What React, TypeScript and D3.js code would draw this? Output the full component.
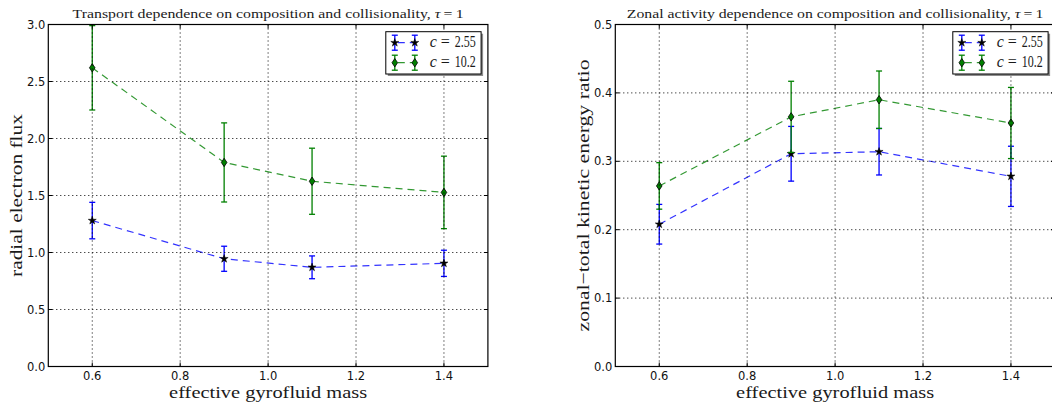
import * as d3 from "d3";

// effective gyrofluid mass (x)
const mass = [0.6, 0.9, 1.1, 1.4];

// radial electron flux
const fluxLowC = [1.28, 0.945, 0.87, 0.905];
const fluxLowCErr = [0.16, 0.11, 0.1, 0.115];
const fluxHighC = [2.62, 1.79, 1.625, 1.527];
const fluxHighCErr = [0.37, 0.347, 0.29, 0.318];

// zonal-total kinetic energy ratio
const zonalLowC = [0.208, 0.311, 0.314, 0.278];
const zonalLowCErr = [0.029, 0.04, 0.034, 0.044];
const zonalHighC = [0.264, 0.365, 0.39, 0.356];
const zonalHighCErr = [0.034, 0.052, 0.042, 0.052];

const massTicks = [0.6, 0.8, 1.0, 1.2, 1.4];
const fluxTicks = [0, 0.5, 1.0, 1.5, 2.0, 2.5, 3.0];
const zonalTicks = [0, 0.1, 0.2, 0.3, 0.4, 0.5];

const seriesLabels = ["2.55", "10.2"];
const seriesColors = ["#0000ff", "#008000"];

const W = 1052;
const H = 405;
const TOP = 24.5;
const BOTTOM = 366.5;
const PW = 439.6;

const serif = "'Liberation Serif', 'DejaVu Serif', serif";
const sans = "'DejaVu Sans', sans-serif";

const starPath = d3.symbol(d3.symbolStar, 20)() as string;
const diamondPath = "M0,-4.2L2.8,0L0,4.2L-2.8,0Z";

function Marker({ kind, cx, cy }: { kind: number; cx: number; cy: number }) {
  if (kind === 0)
    return <path d={starPath} transform={`translate(${cx},${cy})`} fill="#000" stroke="#000" strokeWidth={0.5} />;
  return <path d={diamondPath} transform={`translate(${cx},${cy})`} fill="#008000" stroke="#000" strokeWidth={0.8} />;
}

function ErrBar({ cx, y0, y1, color }: { cx: number; y0: number; y1: number; color: string }) {
  return (
    <g stroke={color} strokeWidth={1.3}>
      <line x1={cx} x2={cx} y1={y0} y2={y1} />
      <line x1={cx - 3} x2={cx + 3} y1={y0} y2={y0} />
      <line x1={cx - 3} x2={cx + 3} y1={y1} y2={y1} />
    </g>
  );
}

type Series = { vals: number[]; errs: number[] };

function Panel(props: {
  left: number;
  title: string;
  titleLen: number;
  ylabel: string;
  ylabelLen: number;
  ylabelX: number;
  yDomain: [number, number];
  yTicks: number[];
  series: Series[];
}) {
  const { left, title, titleLen, ylabel, ylabelLen, ylabelX, yDomain, yTicks, series } = props;
  const x = d3.scaleLinear().domain([0.5, 1.5]).range([left, left + PW]);
  const y = d3.scaleLinear().domain(yDomain).range([BOTTOM, TOP]);
  const fmt = d3.format(".1f");
  const line = d3
    .line<number>()
    .x((_, i) => x(mass[i]))
    .y((d) => y(d));
  const x0 = x(0.5);
  const x1 = x(1.5);
  const cx = (x0 + x1) / 2;
  const cy = (TOP + BOTTOM) / 2;

  const lgX = x1 - 6.8 - 95.3;
  const lgY = 31.7;

  return (
    <g>
      {/* data */}
      {series.map((s, k) => (
        <g key={k}>
          <path d={line(s.vals) as string} fill="none" stroke={seriesColors[k]} strokeWidth={1.2} strokeDasharray="7,5" opacity={0.8} />
          {s.vals.map((v, i) => (
            <ErrBar key={i} cx={x(mass[i])} y0={y(v + s.errs[i])} y1={y(v - s.errs[i])} color={seriesColors[k]} />
          ))}
          {s.vals.map((v, i) => (
            <Marker key={i} kind={k} cx={x(mass[i])} cy={y(v)} />
          ))}
        </g>
      ))}

      {/* grid on top of data */}
      <g stroke="#000" strokeWidth={1} strokeDasharray="1,3">
        {massTicks.map((t) => (
          <line key={t} x1={x(t)} x2={x(t)} y1={TOP} y2={BOTTOM} />
        ))}
        {yTicks.map((t) => (
          <line key={t} x1={x0} x2={x1} y1={y(t)} y2={y(t)} />
        ))}
      </g>

      {/* ticks, inward on all sides */}
      <g stroke="#000" strokeWidth={1}>
        {massTicks.map((t) => (
          <g key={t}>
            <line x1={x(t)} x2={x(t)} y1={BOTTOM} y2={BOTTOM - 4} />
            <line x1={x(t)} x2={x(t)} y1={TOP} y2={TOP + 4} />
          </g>
        ))}
        {yTicks.map((t) => (
          <g key={t}>
            <line x1={x0} x2={x0 + 4} y1={y(t)} y2={y(t)} />
            <line x1={x1} x2={x1 - 4} y1={y(t)} y2={y(t)} />
          </g>
        ))}
      </g>
      <rect x={x0} y={TOP} width={x1 - x0} height={BOTTOM - TOP} fill="none" stroke="#000" strokeWidth={1.2} />

      {/* tick labels */}
      <g fontFamily={sans} fontSize={11.5} fill="#111">
        {massTicks.map((t) => (
          <text key={t} x={x(t)} y={BOTTOM + 13.5} textAnchor="middle">
            {fmt(t)}
          </text>
        ))}
        {yTicks.map((t) => (
          <text key={t} x={x0 - 3} y={y(t)} dy="0.36em" textAnchor="end">
            {fmt(t)}
          </text>
        ))}
      </g>

      {/* title and axis labels */}
      <g fontFamily={serif} fill="#1a1a1a">
        <text x={cx} y={18.3} textAnchor="middle" fontSize={13.5} textLength={titleLen} lengthAdjust="spacingAndGlyphs">
          {title}
          <tspan fontStyle="italic">τ</tspan>
          {"\u2009=\u20091"}
        </text>
        <text x={cx} y={397.5} textAnchor="middle" fontSize={17.5} textLength={198} lengthAdjust="spacingAndGlyphs">
          effective gyrofluid mass
        </text>
        <text
          transform={`translate(${ylabelX},${cy}) rotate(-90)`}
          textAnchor="middle"
          fontSize={17.5}
          textLength={ylabelLen}
          lengthAdjust="spacingAndGlyphs"
        >
          {ylabel}
        </text>
      </g>

      {/* legend */}
      <rect x={lgX + 2} y={lgY + 2} width={95.3} height={42.3} fill="#000" opacity={0.45} />
      <rect x={lgX} y={lgY} width={95.3} height={42.3} fill="#fff" stroke="#000" strokeWidth={1} />
      {seriesLabels.map((lab, k) => {
        const ry = lgY + 11 + k * 20;
        const m0 = lgX + 9;
        const m1 = lgX + 29;
        return (
          <g key={lab}>
            <line x1={m0} x2={m1} y1={ry} y2={ry} stroke={seriesColors[k]} strokeWidth={1.2} strokeDasharray="7,5" strokeDashoffset={-3} opacity={0.8} />
            <ErrBar cx={m0} y0={ry - 7.5} y1={ry + 7.5} color={seriesColors[k]} />
            <ErrBar cx={m1} y0={ry - 7.5} y1={ry + 7.5} color={seriesColors[k]} />
            <Marker kind={k} cx={m0} cy={ry} />
            <Marker kind={k} cx={m1} cy={ry} />
            <g fontFamily={serif} fontSize={16} fill="#1a1a1a">
              <text x={lgX + 44} y={ry + 4.5} fontStyle="italic">c</text>
              <text x={lgX + 55} y={ry + 4.5}>=</text>
              <text x={lgX + 69} y={ry + 4.5} textLength={21} lengthAdjust="spacingAndGlyphs">{lab}</text>
            </g>
          </g>
        );
      })}
    </g>
  );
}

export default function App() {
  return (
    <svg width={W} height={H} style={{ position: "absolute", left: 0, top: 0, background: "#fff" }}>
      <rect width={W} height={H} fill="#fff" />
      <Panel
        left={48.3}
        title="Transport dependence on composition and collisionality, "
        titleLen={391}
        ylabel="radial electron flux"
        ylabelLen={163}
        ylabelX={22}
        yDomain={[0, 3]}
        yTicks={fluxTicks}
        series={[
          { vals: fluxLowC, errs: fluxLowCErr },
          { vals: fluxHighC, errs: fluxHighCErr },
        ]}
      />
      <Panel
        left={615.3}
        title="Zonal activity dependence on composition and collisionality, "
        titleLen={416.7}
        ylabel="zonal−total kinetic energy ratio"
        ylabelLen={272}
        ylabelX={589}
        yDomain={[0, 0.5]}
        yTicks={zonalTicks}
        series={[
          { vals: zonalLowC, errs: zonalLowCErr },
          { vals: zonalHighC, errs: zonalHighCErr },
        ]}
      />
    </svg>
  );
}
